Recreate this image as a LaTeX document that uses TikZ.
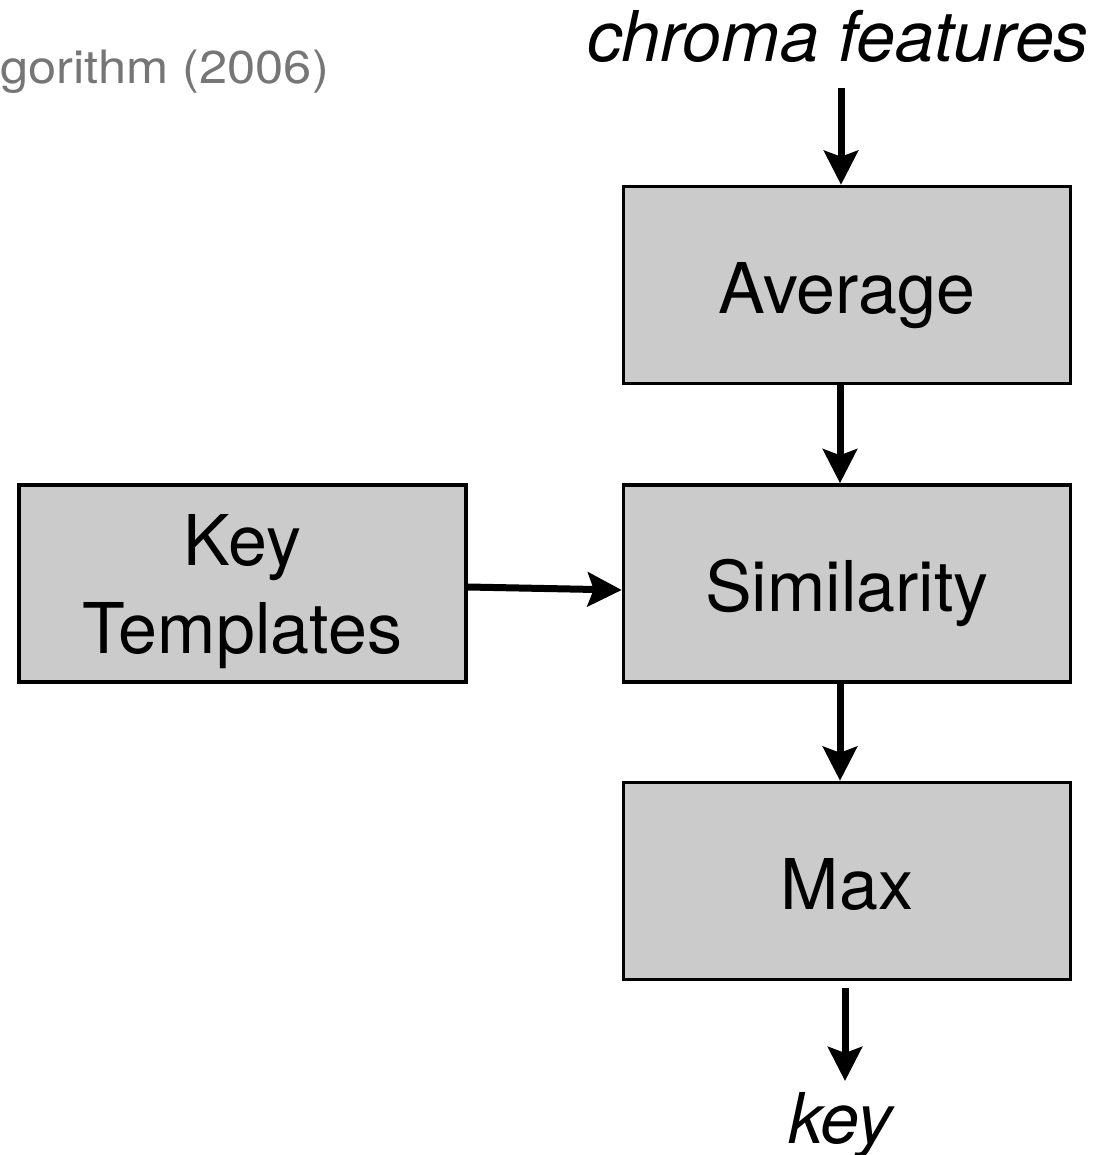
\documentclass[tikz,border=0pt]{standalone}
\usepackage{fontspec}
\setmainfont{TeX Gyre Heros}
\usetikzlibrary{arrows.meta}
\definecolor{boxgray}{HTML}{CBCBCB}
\definecolor{notegray}{HTML}{767676}
\begin{document}
\begin{tikzpicture}[x=1pt,y=-1pt,
  stage/.style={draw=black, line width=3.5pt, fill=boxgray,
    minimum width=447pt, minimum height=197pt, inner sep=0pt,
    text height=56pt, text depth=0pt,
    align=center, font=\fontsize{70}{88}\selectfont},
  flow/.style={line width=7pt, -{Stealth[length=34pt,width=34pt,inset=6pt]}},
  iolabel/.style={inner sep=0pt, anchor=base, font=\fontsize{70}{88}\selectfont\itshape}]
  \useasboundingbox (0,0) rectangle (1098,1155);

  % processing stages
  \node[stage] (avg) at (847,285)   {Average};
  \node[stage] (sim) at (847,583.5) {Similarity};
  \node[stage] (max) at (847,881)   {Max};
  \node[stage, text height=139pt, text depth=0pt] (kt) at (242.5,583.5) {Key\\Templates};

  % input / output labels
  \node[iolabel] (cf)  at (838,62)   {chroma features};
  \node[iolabel] (key) at (840,1143) {key};
  \node[inner sep=0pt, anchor=base west, text=notegray,
        font=\fontsize{46}{56}\selectfont] (note) at (0,84)
        {\scalebox{1.1}[1]{gorithm (2006)}};

  % free ends of the input and output arrows
  \coordinate (cfstart) at (841,88);
  \coordinate (keytip)  at (845,1081);

  % connectors
  \draw[flow] (cfstart) -- (cfstart |- avg.north);
  \draw[flow] ([xshift=-7pt]avg.south) -- ([xshift=-7pt]sim.north);
  \draw[flow] ([xshift=-7pt]sim.south) -- ([xshift=-7pt]max.north);
  \draw[flow] (keytip |- max.south) ++(0,7) -- (keytip);
  \draw[flow] ([yshift=-3.5pt]kt.east) -- ([yshift=-6.5pt]sim.west);
\end{tikzpicture}
\end{document}
